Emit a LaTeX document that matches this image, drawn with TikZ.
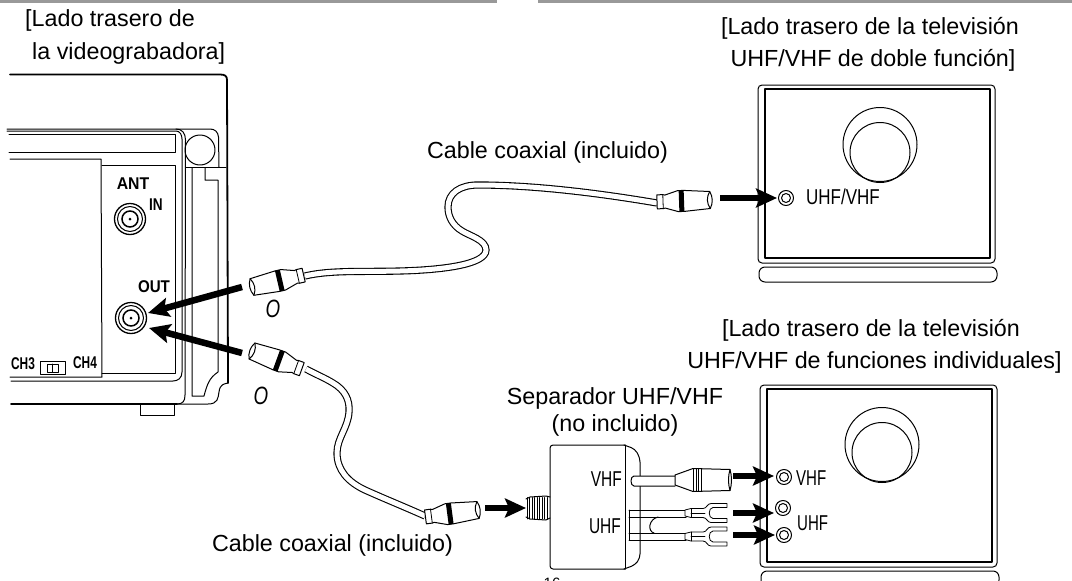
\documentclass[tikz,border=0pt]{standalone}
\usepackage{fontspec}
\setmainfont{Liberation Sans}
\usetikzlibrary{arrows.meta}
\tikzset{
  ln/.style={draw=black,line width=1pt,line cap=round,line join=round},
  thin ln/.style={draw=black,line width=0.8pt,line cap=round,line join=round},
  heavy/.style={draw=black,line width=1.8pt,line cap=round,line join=round},
  bigarrow/.style={draw=black,line width=6.5pt,-{Stealth[length=21pt,width=19pt,inset=4pt]}},
  cable/.style={draw=black,line width=1.1pt,double=white,double distance=5pt,line cap=butt},
  lab/.style={font=\fontsize{23.3}{27}\selectfont,inner sep=0pt,text=black},
  narrow/.style={font=\fontsize{21.5}{25}\selectfont,inner sep=0pt,text=black,xscale=#1,transform shape},
  panel/.style={font=\fontsize{17}{20}\selectfont\bfseries,inner sep=0pt,xscale=#1,transform shape},
  bigo/.style={font=\fontsize{25}{28}\selectfont\itshape,inner sep=0pt,text=black,xscale=.75,transform shape},
  plug/.pic={
    \draw[ln,fill=white] (0,-8.5) -- (26,-10.5) -- (32,-10.5) -- (45,-6.5) -- (47,-7) -- (53,-7) -- (53,7) -- (47,7) -- (45,6.5) -- (32,10.5) -- (26,10.5) -- (0,8.5) .. controls (-3,3) and (-3,-3) .. cycle;
    \draw[ln] (0,-8.5) .. controls (3.5,-3) and (3.5,3) .. (0,8.5);
    \fill[black] (26,-10.5) rectangle (31,10.5);
    \draw[thin ln] (47,-7) -- (47,7);
  },
  vhfplug/.pic={
    \draw[ln,fill=white] (0,-10.5) -- (37,-11.5) -- (55,-5) -- (55,5) -- (37,11.5) -- (0,10.5) .. controls (2,4) and (2,-4) .. cycle;
    \draw[ln] (0,-10.5) .. controls (-2,-4) and (-2,4) .. (0,10.5);
    \foreach \t in {29,31.5,34,37} {\draw[thin ln] (\t,-11.5) -- (\t,11.5);}
  },
  fork/.pic={
    \draw[thin ln,fill=white] (0,-3) -- (6,-4.5) -- (18,-4.5) .. controls (22,-4.5) and (22,-9.5) .. (26,-9.5) -- (42,-9.5) -- (42,-5.5) -- (28,-5.5) .. controls (23,-5.5) and (23,5.5) .. (28,5.5) -- (42,5.5) -- (42,9.5) -- (26,9.5) .. controls (22,9.5) and (22,4.5) .. (18,4.5) -- (6,4.5) -- (0,3) -- cycle;
    \draw[thin ln] (6,-4.5) -- (6,4.5);
    \draw[thin ln] (6,0) -- (20,0);
  },
  tvback/.pic={
    \draw[ln,rounded corners=4pt,fill=white] (0,0) rectangle (237,#1);
    \draw[heavy] (7,4) rectangle (232,#1-5);
    \draw[ln] (122,59.5) circle[radius=37];
    \draw[ln] (122,67.5) circle[radius=30];
    \draw[ln,rounded corners=6pt] (1,#1+4) rectangle (239,#1+19);
  },
  jack/.pic={
    \draw[ln,fill=white] (0,0) circle[radius=7.5];
    \draw[ln] (0,0) circle[radius=4.5];
  },
  bigjack/.pic={
    \draw[line width=1.3pt] (0,0) circle[radius=15.5];
    \draw[ln] (0,0) circle[radius=12.5];
    \draw[line width=1.5pt] (0,0) circle[radius=8];
    \fill (0,0) circle[radius=1.5];
  }
}
\begin{document}
\begin{tikzpicture}[x=1pt,y=-1pt]
\useasboundingbox (0,0) rectangle (1072,581);
\fill[white] (0,0) rectangle (1072,581);
\begin{scope}
\clip (0,0) rectangle (1072,581);
% scan band at the top
\fill[black!40] (0,0) rectangle (497,3);
\fill[black!40] (538,0) rectangle (1072,3);

% ---- VCR
\draw[heavy] (10,74.5) -- (220,74.5) .. controls (225,74.5) and (227,76) .. (227,80) -- (228,383);
\draw[heavy] (11,404) -- (177,404);
\draw[ln] (177,404) -- (208,404) .. controls (218,404) and (218,398) .. (219,392) .. controls (220,384) and (224,384) .. (228,383);
\draw[ln] (7,129) -- (210,129) .. controls (215,129) and (218,132) .. (218.5,137) -- (219,167);
\draw[ln] (7,131) -- (176,131) .. controls (180,131) and (182,135) .. (182,139) -- (182,372) .. controls (182,378) and (178,381) .. (173,381) -- (11,381);
\draw[ln] (176,129) .. controls (182,129) and (185.5,133) .. (185.5,140) -- (185,395) .. controls (185,401) and (183,404) .. (177,404);
\draw[ln] (9,134) -- (175,134) -- (175,152) -- (9,152);
\draw[ln] (10,159) -- (101,159) -- (102,377) -- (10,377);
\draw[ln] (102,165) -- (175,165) -- (175,373) -- (102,373);
\draw[ln] (200,150) circle[radius=15];
\draw[ln] (186,167) -- (226,167);
\draw[ln] (192,168) -- (192,396) -- (204,396) .. controls (207,385) and (209,378) .. (218,372) -- (218,180) -- (205,180) -- (205,168);
\draw[ln] (140,405) -- (140,415) -- (174,415) -- (174,405);
\node[panel=.93] (ant) at (133,184) {ANT};
\node[panel=.8] (in) at (156,205) {IN};
\node[panel=.89] (out) at (154,287) {OUT};
\pic (jackin) at (130,219) {bigjack};
\pic (jackout) at (131,318) {bigjack};
\coordinate (outhit1) at (148,313);
\coordinate (outhit2) at (149,328);
\node[panel=.7] (chthree) at (23,364) {CH3};
\node[panel=.7] (chfour) at (85,363) {CH4};
\draw[ln] (40,361) rectangle (65,374);
\draw[ln] (47,364) rectangle (58,372);
\draw[ln] (52.5,364) -- (52.5,372);

% ---- TV top
\pic (tvtop) at (758,85) {tvback=178};
\pic (j0) at (786,198) {jack};
\coordinate (j0hit) at (777,198);
\node[narrow=.79,anchor=west] (uv) at (806,197) {UHF/VHF};

% ---- TV bottom
\pic (tvbot) at (760,385) {tvback=182};
\pic (j1) at (784,477) {jack};
\pic (j2) at (783,508) {jack};
\pic (j3) at (784,535) {jack};
\coordinate (j1hit) at (774,476);
\coordinate (j2hit) at (774,513);
\coordinate (j3hit) at (775,535);
\node[narrow=.7,anchor=west] (vhfb) at (796,478) {VHF};
\node[narrow=.7,anchor=west] (uhfb) at (797,523) {UHF};

% ---- Splitter
\draw[ln,rounded corners=3pt] (625,445) -- (550,445) -- (550,569) -- (625,569);
\draw[ln] (625,445) -- (625,569);
\draw[ln,rounded corners=4pt] (624,445) -- (635,449) -- (640,458) -- (640,558) -- (635,565) -- (624,569);
\node[narrow=.72,anchor=east] (svhf) at (622,479) {VHF};
\node[narrow=.72,anchor=east] (suhf) at (621,526) {UHF};
\foreach \x in {527,529.5,...,547} {\draw[thin ln] (\x,497.5) -- (\x,519);}
\draw[ln] (526,499) -- (530,497) -- (546,496) -- (550,497);
\draw[ln] (526,517) -- (530,519) -- (546,520) -- (550,518);
\coordinate (thread) at (526,508);
% VHF lead
\draw[ln,fill=white] (675,476) -- (634,476) .. controls (630,476) and (630,486) .. (634,486) -- (675,486);
% UHF leads
\draw[ln] (629,510) -- (629,540);
\draw[ln] (629,510) -- (686,510) (629,517) -- (686,517);
\draw[ln] (629,533) -- (686,533) (629,540) -- (686,540);
\draw[ln] (658,517) .. controls (649,519) and (647,531) .. (654,533);
\pic at (685,513) {fork};
\pic at (685,536.5) {fork};

% ---- Cables
\coordinate (pa) at (252,287);
\coordinate (pc) at (252,351);
\coordinate (pb) at (710,200);
\coordinate (pd) at (478,510);
\coordinate (pv) at (730,480);
\coordinate (pa-neck) at (305,276);
\coordinate (pb-neck) at (657,203);
\coordinate (pc-neck) at (306,369);
\coordinate (pd-neck) at (425,516);
\draw[cable] (pa-neck) .. controls (330,270) and (360,272) .. (400,271)
  .. controls (440,270) and (486,265) .. (486,250)
  .. controls (486,240) and (470,236) .. (462,231)
  .. controls (452,225) and (448,216) .. (448,207)
  .. controls (448,193) and (460,185) .. (478,185)
  .. controls (540,185) and (610,195) .. (pb-neck);
\draw[cable] (pc-neck) .. controls (315,374) and (325,378) .. (333,383)
  .. controls (345,390) and (350,400) .. (349,412)
  .. controls (348,428) and (337,438) .. (337,453)
  .. controls (337,470) and (348,482) .. (365,490)
  .. controls (385,499) and (405,507) .. (pd-neck);

% ---- Plugs
\pic[rotate=13] (pa1) at (pa) {plug};
\pic[rotate=-20] (pc1) at (pc) {plug};
\pic[rotate=182] (pb1) at (pb) {plug};
\pic[rotate=187.5] (pd1) at (pd) {plug};
\pic[rotate=180] (pv1) at (pv) {vhfplug};

% ---- Arrows
\coordinate (a1s) at (242,287);
\coordinate (a2s) at (242,353);
\coordinate (a3s) at (720,198);
\coordinate (a4s) at (485,508);
\coordinate (a5s) at (733,476);
\coordinate (a6s) at (733,513);
\coordinate (a7s) at (733,535);
\draw[bigarrow] (a1s) -- (outhit1);
\draw[bigarrow] (a2s) -- (outhit2);
\draw[bigarrow] (a3s) -- (j0hit);
\draw[bigarrow] (a4s) -- (thread);
\draw[bigarrow] (a5s) -- (j1hit);
\draw[bigarrow] (a6s) -- (j2hit);
\draw[bigarrow] (a7s) -- (j3hit);

% ---- Labels
\node[lab,anchor=west] (t1) at (25,20) {[Lado trasero de};
\node[lab,anchor=west] (t2) at (32,53) {la videograbadora]};
\node[lab] (t3) at (870,28) {[Lado trasero de la televisión};
\node[lab] (t4) at (873,60) {UHF/VHF de doble función]};
\node[lab] (t5) at (547.5,152) {Cable coaxial (incluido)};
\node[lab] (t6) at (871,330) {[Lado trasero de la televisión};
\node[lab] (t7) at (874.5,362) {UHF/VHF de funciones individuales]};
\node[lab] (t8) at (615,398) {Separador UHF/VHF};
\node[lab] (t9) at (615,425) {(no incluido)};
\node[lab] (t10) at (332.5,545) {Cable coaxial (incluido)};
\node[bigo] (o1) at (273,309) {O};
\node[bigo] (o2) at (261,396) {O};
\node[lab,font=\fontsize{15}{18}\selectfont,anchor=base] (pg) at (552,588) {16};
\end{scope}
\end{tikzpicture}
\end{document}
